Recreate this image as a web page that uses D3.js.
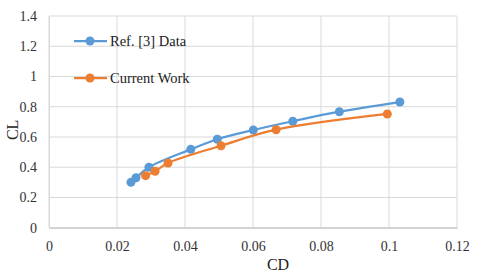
<!DOCTYPE html>
<html><head><meta charset="utf-8">
<script src="https://cdn.jsdelivr.net/npm/d3@7"></script>
<style>body{margin:0;background:#fff}svg{display:block}text{font-family:"Liberation Serif","Times New Roman",serif}</style>
</head><body><svg id="c" width="480" height="276"></svg>
<script>
const refCD = [0.0241, 0.0256, 0.0294, 0.0417, 0.0495, 0.0601, 0.0717, 0.0854, 0.1032];
const refCL = [0.30, 0.33, 0.40, 0.518, 0.585, 0.646, 0.704, 0.767, 0.831];
const curCD = [0.0284, 0.0312, 0.0350, 0.0506, 0.0668, 0.0995];
const curCL = [0.344, 0.373, 0.428, 0.542, 0.648, 0.752];
const xTicks = [0, 0.02, 0.04, 0.06, 0.08, 0.1, 0.12];
const yTicks = [0, 0.2, 0.4, 0.6, 0.8, 1, 1.2, 1.4];
const seriesNames = ["Ref. [3] Data", "Current Work"];
const colors = ["#5B9BD5", "#ED7D31"];

const svg = d3.select("#c");
const L = 49, R = 457, T = 16, B = 227.7;
const x = d3.scaleLinear().domain([0, 0.12]).range([L, R]);
const y = d3.scaleLinear().domain([0, 1.4]).range([B, T]);
const font = '"Liberation Serif", "Times New Roman", serif';

// grid
svg.append("g").selectAll("line").data(yTicks).join("line")
  .attr("x1", L).attr("x2", R).attr("y1", d => y(d)).attr("y2", d => y(d))
  .attr("stroke", "#d9d9d9").attr("stroke-width", 1);
svg.append("g").selectAll("line").data(xTicks).join("line")
  .attr("x1", d => x(d)).attr("x2", d => x(d)).attr("y1", T).attr("y2", B)
  .attr("stroke", "#d9d9d9").attr("stroke-width", 1);

// axes
const xa = svg.append("g").attr("transform", `translate(0,${B})`)
  .call(d3.axisBottom(x).tickValues(xTicks).tickFormat(d => String(+d.toFixed(2))).tickSize(0).tickPadding(13));
xa.select(".domain").attr("stroke", "#bfbfbf");
const ya = svg.append("g").attr("transform", `translate(${L},0)`)
  .call(d3.axisLeft(y).tickValues(yTicks).tickFormat(d => String(+d.toFixed(1))).tickSize(0).tickPadding(12));
ya.select(".domain").attr("stroke", "#d9d9d9");
svg.selectAll(".tick text").attr("font-family", null).style("font-family", font).style("font-size", "14px").attr("fill", "#333");

// axis titles
svg.append("text").attr("x", (L + R) / 2 + 25).attr("y", 270).attr("text-anchor", "middle")
  .style("font-family", font).style("font-size", "16px").attr("fill", "#222").text("CD");
svg.append("text").attr("transform", `translate(18,${(T + B) / 2 + 8}) rotate(-90)`).attr("text-anchor", "middle")
  .style("font-family", font).style("font-size", "16px").attr("fill", "#222").text("CL");

// series
const series = [
  refCD.map((c, i) => [c, refCL[i]]),
  curCD.map((c, i) => [c, curCL[i]])
];
const line = d3.line().x(d => x(d[0])).y(d => y(d[1])).curve(d3.curveCatmullRom.alpha(0.5));
series.forEach((s, i) => {
  svg.append("path").attr("d", line(s)).attr("fill", "none").attr("stroke", colors[i]).attr("stroke-width", 2.25);
  svg.append("g").selectAll("circle").data(s).join("circle")
    .attr("cx", d => x(d[0])).attr("cy", d => y(d[1])).attr("r", 4.5).attr("fill", colors[i]);
});

// legend
const legY = [41, 78];
seriesNames.forEach((n, i) => {
  svg.append("line").attr("x1", 74).attr("x2", 107).attr("y1", legY[i]).attr("y2", legY[i])
    .attr("stroke", colors[i]).attr("stroke-width", 2.25);
  svg.append("circle").attr("cx", 90).attr("cy", legY[i]).attr("r", 4.5).attr("fill", colors[i]);
  svg.append("text").attr("x", 110).attr("y", legY[i] + 5).style("font-family", font).style("font-size", "14.5px")
    .attr("fill", "#222").text(n);
});
</script></body></html>
